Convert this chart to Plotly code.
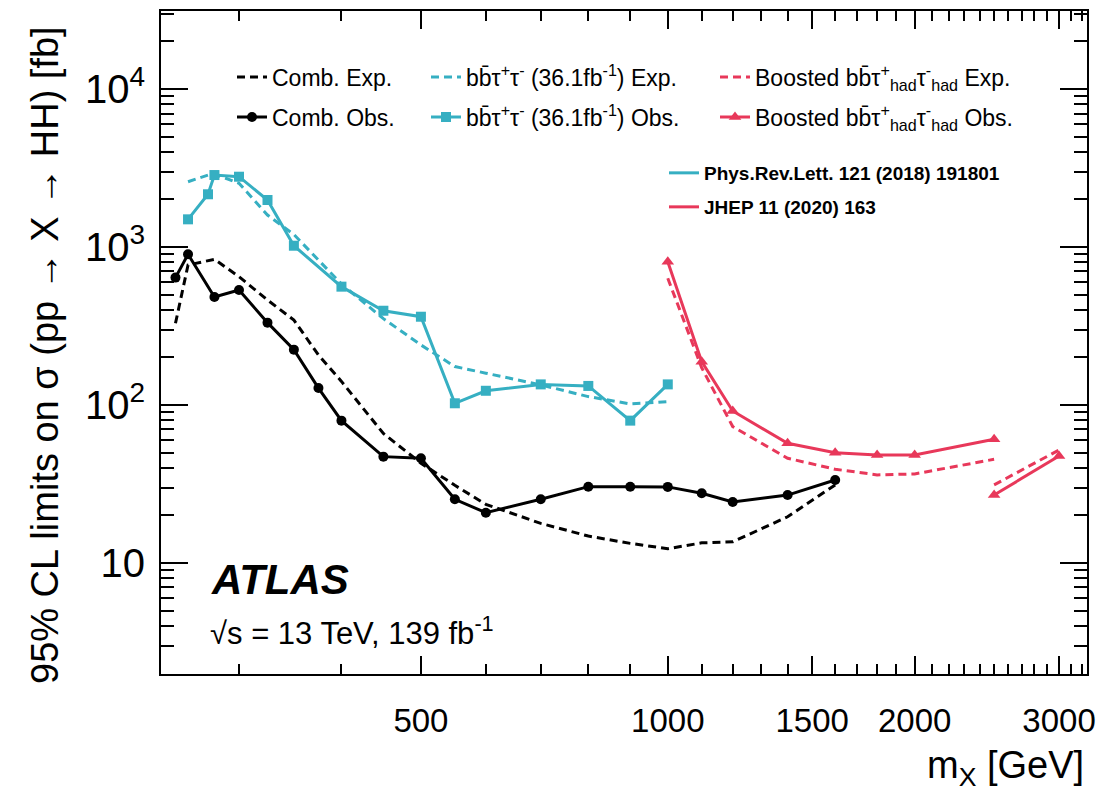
import math
import plotly.graph_objects as go

# ---------------- data ----------------
comb_mass = [251, 260, 280, 300, 325, 350, 375, 400, 450, 500, 550, 600, 700, 800, 900, 1000, 1100, 1200, 1400, 1600]
comb_exp = [329, 769, 836, 649, 462, 345, 207, 141, 66, 42.8, 31, 23.5, 17.8, 14.8, 13.3, 12.3, 13.4, 13.6, 19.6, 31.2]
comb_obs = [640, 899, 483, 534, 332, 224, 128, 79.6, 47.1, 46.0, 25.3, 20.8, 25.3, 30.4, 30.4, 30.3, 27.6, 24.3, 26.9, 33.5]

bbtt_mass = [260, 275, 280, 300, 325, 350, 400, 450, 500, 550, 600, 700, 800, 900, 1000]
bbtt_exp = [2589, 2855, 2900, 2531, 1594, 1200, 583, 352, 240, 175, 159, 134, 113, 101.5, 105]
bbtt_obs = [1497, 2157, 2855, 2786, 1984, 1019, 561, 395, 362, 102.5, 123, 135, 132, 79.6, 135]

boost_mass_a = [1000, 1100, 1200, 1400, 1600, 1800, 2000, 2500]
boost_exp_a = [634, 172, 73, 46, 39.2, 36.1, 36.6, 45.3]
boost_obs_a = [807, 188, 91.6, 57.2, 49.9, 48.3, 48.3, 60.7]
boost_mass_b = [2500, 3000]
boost_exp_b = [31.2, 51.9]
boost_obs_b = [26.9, 47.6]

x_tickvals = [500, 1000, 1500, 2000, 3000]
x_ticktext = ["500", "1000", "1500", "2000", "3000"]
y_tickvals = [10, 100, 1000, 10000]
y_ticktext = ["10", "10<sup>2</sup>", "10<sup>3</sup>", "10<sup>4</sup>"]

names = {
    "comb_exp": "Comb. Exp.",
    "comb_obs": "Comb. Obs.",
    "bbtt_exp": "bb\u0304\u03c4<sup>+</sup>\u03c4<sup>-</sup> (36.1fb<sup>-1</sup>) Exp.",
    "bbtt_obs": "bb\u0304\u03c4<sup>+</sup>\u03c4<sup>-</sup> (36.1fb<sup>-1</sup>) Obs.",
    "boost_exp": "Boosted bb\u0304\u03c4<sup>+</sup><sub>had</sub>\u03c4<sup>-</sup><sub>had</sub> Exp.",
    "boost_obs": "Boosted bb\u0304\u03c4<sup>+</sup><sub>had</sub>\u03c4<sup>-</sup><sub>had</sub> Obs.",
    "ref1": "<b>Phys.Rev.Lett. 121 (2018) 191801</b>",
    "ref2": "<b>JHEP 11 (2020) 163</b>",
}

# ---------------- style ----------------
FONT = "Liberation Sans, Arial, Helvetica, sans-serif"
BLACK = "#000000"
CYAN = "#36AFC2"
RED = "#E8385A"
DASH = "8px,5px"
LW = 3

W, H = 1096, 794
ML, MR, MT, MB = 161, 9, 11, 120
PW, PH = W - ML - MR, H - MT - MB


def px2paper(px, py):
    return (px - ML) / PW, 1 - (py - MT) / PH


fig = go.Figure()

fig.add_trace(go.Scatter(x=comb_mass, y=comb_exp, mode="lines", name=names["comb_exp"],
                         line=dict(color=BLACK, width=LW, dash=DASH), legend="legend"))
fig.add_trace(go.Scatter(x=comb_mass, y=comb_obs, mode="lines+markers", name=names["comb_obs"],
                         line=dict(color=BLACK, width=LW), marker=dict(symbol="circle", size=10, color=BLACK),
                         legend="legend2"))
fig.add_trace(go.Scatter(x=bbtt_mass, y=bbtt_exp, mode="lines", name=names["bbtt_exp"],
                         line=dict(color=CYAN, width=LW, dash=DASH), legend="legend3"))
fig.add_trace(go.Scatter(x=bbtt_mass, y=bbtt_obs, mode="lines+markers", name=names["bbtt_obs"],
                         line=dict(color=CYAN, width=LW), marker=dict(symbol="square", size=10, color=CYAN),
                         legend="legend4"))
fig.add_trace(go.Scatter(x=boost_mass_a, y=boost_exp_a, mode="lines", name=names["boost_exp"],
                         line=dict(color=RED, width=LW, dash=DASH), legend="legend5"))
fig.add_trace(go.Scatter(x=boost_mass_b, y=boost_exp_b, mode="lines", showlegend=False,
                         line=dict(color=RED, width=LW, dash=DASH)))
fig.add_trace(go.Scatter(x=boost_mass_a, y=boost_obs_a, mode="lines+markers", name=names["boost_obs"],
                         line=dict(color=RED, width=LW), marker=dict(symbol="triangle-up", size=11, color=RED),
                         legend="legend6"))
fig.add_trace(go.Scatter(x=boost_mass_b, y=boost_obs_b, mode="lines+markers", showlegend=False,
                         line=dict(color=RED, width=LW), marker=dict(symbol="triangle-up", size=11, color=RED)))
fig.add_trace(go.Scatter(x=[None], y=[None], mode="lines", name=names["ref1"],
                         line=dict(color=CYAN, width=LW), legend="legend7"))
fig.add_trace(go.Scatter(x=[None], y=[None], mode="lines", name=names["ref2"],
                         line=dict(color=RED, width=LW), legend="legend8"))


def leg(px, py, size=23):
    x, y = px2paper(px, py)
    return dict(x=x, y=y, xanchor="left", yanchor="middle", bgcolor="rgba(0,0,0,0)",
                borderwidth=0, font=dict(size=size, family=FONT, color="black"))


# minor ticks
x_minor = [v for v in range(300, 3300, 100) if v not in x_tickvals]
y_minor = []
for dec in range(0, 5):
    for m in range(2, 10):
        v = m * 10 ** dec
        if 2 <= v <= 31000:
            y_minor.append(v)

xr = [math.log10(241), math.log10(3245)]
yr = [0.297, 4.494]

ann = []
x, y = px2paper(209, 579)
ann.append(dict(x=x, y=y, xref="paper", yref="paper", xanchor="left", yanchor="middle", showarrow=False,
                text="<b><i>ATLAS</i></b>", font=dict(size=42, family=FONT, color="black")))
x, y = px2paper(208, 631)
ann.append(dict(x=x, y=y, xref="paper", yref="paper", xanchor="left", yanchor="middle", showarrow=False,
                text="\u221as = 13 TeV, 139 fb<sup>-1</sup>", font=dict(size=31, family=FONT, color="black")))
x, y = px2paper(1086, 768)
ann.append(dict(x=x, y=y, xref="paper", yref="paper", xanchor="right", yanchor="middle", showarrow=False,
                text="m<sub>X</sub> [GeV]", font=dict(size=38, family=FONT, color="black")))
x, y = px2paper(45, 355)
ann.append(dict(x=x, y=y, xref="paper", yref="paper", xanchor="center", yanchor="middle", showarrow=False,
                textangle=-90, text="95% CL limits on \u03c3 (pp \u2192 X \u2192 HH) [fb]",
                font=dict(size=38, family=FONT, color="black")))

fig.update_layout(
    width=W, height=H,
    margin=dict(l=ML, r=MR, t=MT, b=MB, autoexpand=False),
    paper_bgcolor="white", plot_bgcolor="white",
    font=dict(family=FONT, color="black"),
    annotations=ann,
    legend=leg(232, 77), legend2=leg(232, 117),
    legend3=leg(426, 77), legend4=leg(426, 117),
    legend5=leg(715, 77), legend6=leg(715, 117),
    legend7=leg(664, 173, 19), legend8=leg(664, 207, 19),
    xaxis=dict(type="log", range=xr, showgrid=False, zeroline=False, automargin=False,
               showline=True, linecolor="black", linewidth=2, mirror="ticks",
               ticks="inside", ticklen=18, tickwidth=1.5, tickcolor="black",
               tickmode="array", tickvals=x_tickvals, ticktext=x_ticktext,
               tickfont=dict(size=33, family=FONT, color="black"), ticklabelstandoff=16,
               minor=dict(tickmode="array", tickvals=x_minor, ticks="inside", ticklen=10,
                          tickwidth=1.5, tickcolor="black", showgrid=False)),
    yaxis=dict(type="log", range=yr, showgrid=False, zeroline=False, automargin=False,
               showline=True, linecolor="black", linewidth=2, mirror="ticks",
               ticks="inside", ticklen=27, tickwidth=1.5, tickcolor="black",
               tickmode="array", tickvals=y_tickvals, ticktext=y_ticktext,
               tickfont=dict(size=40, family=FONT, color="black"), ticklabelstandoff=6,
               minor=dict(tickmode="array", tickvals=y_minor, ticks="inside", ticklen=13,
                          tickwidth=1.5, tickcolor="black", showgrid=False)),
)

fig.write_html("out.html")
